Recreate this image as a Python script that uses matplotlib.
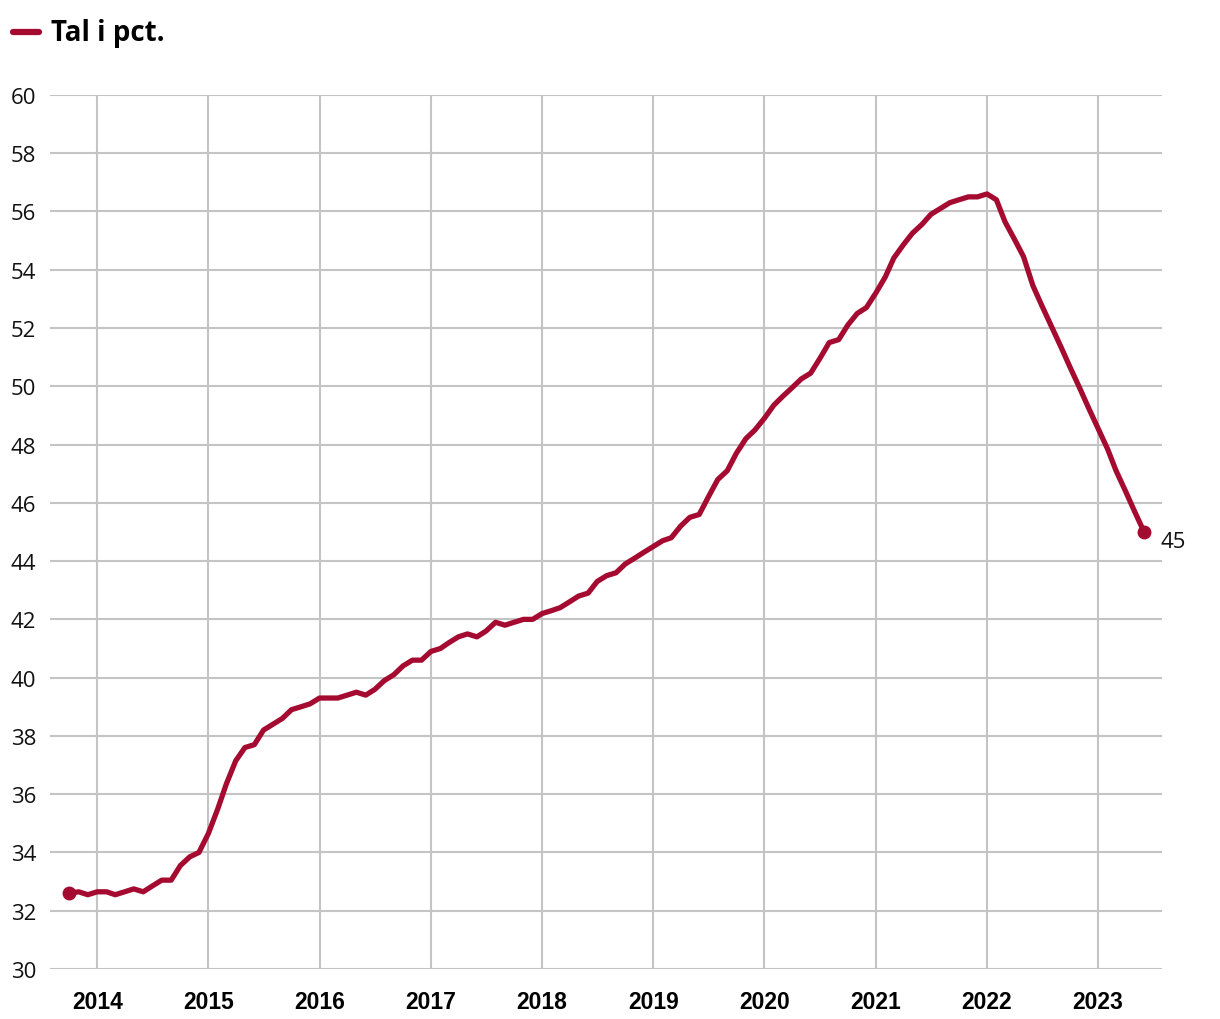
import matplotlib
matplotlib.use("Agg")
import matplotlib.pyplot as plt
import matplotlib.dates as mdates
import pandas as pd

# månedlige tal, okt 2013 - jun 2023
start_month = "2013-10-01"
values = [
    32.6, 32.65, 32.55,                                                     # 2013
    32.65, 32.65, 32.55, 32.65, 32.75, 32.65, 32.85, 33.05, 33.05, 33.55, 33.85, 34.0,   # 2014
    34.65, 35.5, 36.35, 37.15, 37.6, 37.7, 38.2, 38.4, 38.6, 38.9, 39.0, 39.1,           # 2015
    39.3, 39.3, 39.3, 39.4, 39.5, 39.4, 39.6, 39.9, 40.1, 40.4, 40.6, 40.6,              # 2016
    40.9, 41.0, 41.2, 41.4, 41.5, 41.4, 41.6, 41.9, 41.8, 41.9, 42.0, 42.0,              # 2017
    42.2, 42.3, 42.4, 42.6, 42.8, 42.9, 43.3, 43.5, 43.6, 43.9, 44.1, 44.3,              # 2018
    44.5, 44.7, 44.8, 45.2, 45.5, 45.6, 46.2, 46.8, 47.1, 47.7, 48.2, 48.5,              # 2019
    48.9, 49.35, 49.65, 49.95, 50.25, 50.45, 50.95, 51.5, 51.6, 52.1, 52.5, 52.7,        # 2020
    53.2, 53.75, 54.4, 54.85, 55.25, 55.55, 55.9, 56.1, 56.3, 56.4, 56.5, 56.5,          # 2021
    56.6, 56.4, 55.65, 55.05, 54.45, 53.45, 52.75, 52.05, 51.35, 50.65, 49.95, 49.25,    # 2022
    48.55, 47.85, 47.1, 46.4, 45.7, 45.0,                                                # 2023
]
series_name = "Tal i pct."
years = list(range(2014, 2024))
y_ticks = list(range(30, 61, 2))

red = "#a50b30"
grid_col = "#c4c4c4"

dates = pd.date_range(start_month, periods=len(values), freq="MS")

fig = plt.figure(figsize=(12.2, 10.2), dpi=100)
ax = fig.add_axes([0.041, 0.049, 0.9115, 0.857])

ax.plot(dates, values, color=red, lw=3.8, solid_joinstyle="round", solid_capstyle="round", zorder=3)
ax.plot([dates[0], dates[-1]], [values[0], values[-1]], "o", color=red, ms=9, zorder=4)
ax.annotate(f"{values[-1]:.0f}", (dates[-1], values[-1]), xytext=(12, -7),
            textcoords="offset points", fontsize=16, family="Open Sans", va="center", color="#111111")

ax.set_ylim(30, 60)
ax.set_xlim(pd.Timestamp("2013-07-30"), pd.Timestamp("2023-07-30"))
ax.set_yticks(y_ticks)
ax.set_xticks([pd.Timestamp(f"{y}-01-01") for y in years])
ax.xaxis.set_major_formatter(mdates.DateFormatter("%Y"))

ax.grid(True, color=grid_col, lw=1.5)
ax.set_axisbelow(True)
for s in ax.spines.values():
    s.set_visible(False)
ax.tick_params(length=0)
ax.tick_params(axis="y", pad=10, labelsize=16, labelcolor="#111111")
ax.tick_params(axis="x", pad=15, labelsize=16.5)
for lab in ax.get_yticklabels():
    lab.set_family("Open Sans")
for lab in ax.get_xticklabels():
    lab.set_family("Liberation Sans")
    lab.set_fontweight("bold")

# legende øverst
fig.lines.append(plt.Line2D([0.011, 0.032], [0.968, 0.968], color=red, lw=4.5, solid_capstyle="round",
                            transform=fig.transFigure))
fig.text(0.042, 0.967, series_name, fontsize=20, fontweight="bold", family="Open Sans", va="center")

fig.savefig("out.png", dpi=100)
